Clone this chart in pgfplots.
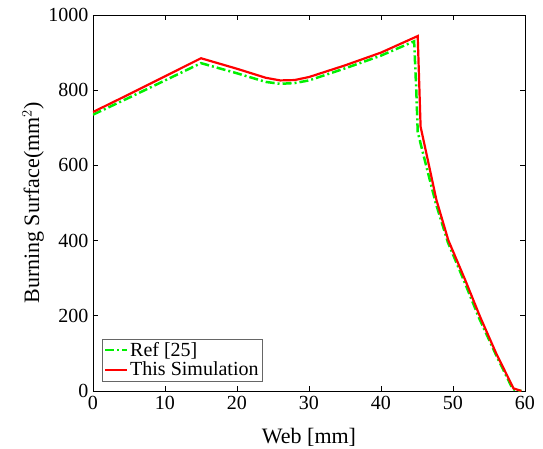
\documentclass[border=0pt]{standalone}
\usepackage{fontspec}
\setmainfont{Liberation Serif}
\usepackage{pgfplots}
\pgfplotsset{compat=1.18}
\begin{document}
\begin{tikzpicture}
\useasboundingbox (-93pt,-57pt) rectangle (450pt,391pt);
\begin{axis}[
    at={(0,0)}, anchor=south west,
    scale only axis,
    width=432pt, height=376pt,
    xmin=0, xmax=60, ymin=0, ymax=1000,
    xtick={0,10,...,60},
    ytick={0,200,...,1000},
    tick align=inside,
    major tick length=5pt,
    tick style={black, line width=0.8pt},
    axis line style={line width=0.8pt},
    /pgf/number format/assume math mode=true,
    /pgf/number format/1000 sep={},
    ticklabel style={font=\fontsize{20}{20}\selectfont},
    xticklabel style={yshift=-2pt},
    yticklabel style={xshift=-1pt},
    xlabel={Web [mm]},
    ylabel={Burning Surface(mm$^2$)},
    label style={font=\fontsize{22}{22}\selectfont},
    xlabel style={at={(axis description cs:0.5,0)}, anchor=center, yshift=-46pt},
    ylabel style={at={(axis description cs:0,0.5)}, anchor=center, yshift=60pt},
    legend style={at={(9pt,10pt)}, anchor=south west, draw=gray!80!black,
        font=\fontsize{20}{24}\selectfont, inner sep=2pt, row sep=1pt,
        nodes={inner sep=1.5pt}},
    legend cell align=left,
    legend image code/.code={\draw[#1] (0pt,0pt) -- (22pt,0pt);},
]
\addplot[color={rgb,255:red,0;green,240;blue,0}, line width=2.5pt, dash pattern=on 9pt off 3pt on 2pt off 3pt] coordinates {
    (0,735) (5,780) (10,826) (15,872) (20,845) (24,822) (26,817) (28,819)
    (30,826) (35,858) (40,892) (44.6,930)
    (44.9,800) (45.1,690) (45.6,650) (47.6,500) (49.3,395) (51.6,290)
    (53.6,195) (56,95) (58.3,5) (59.5,0)
};
\addplot[color=red, line width=2.2pt] coordinates {
    (0,742) (5,789) (10,837) (15,885) (20,857) (24,833) (26,826) (28,827)
    (30,835) (35,866) (40,900) (45.1,944)
    (45.5,703) (47.7,508) (49.35,401) (51.7,295)
    (53.75,198) (56,100) (58.4,7) (59.5,0)
};
\legend{Ref [25], This Simulation}
\end{axis}
\end{tikzpicture}
\end{document}
